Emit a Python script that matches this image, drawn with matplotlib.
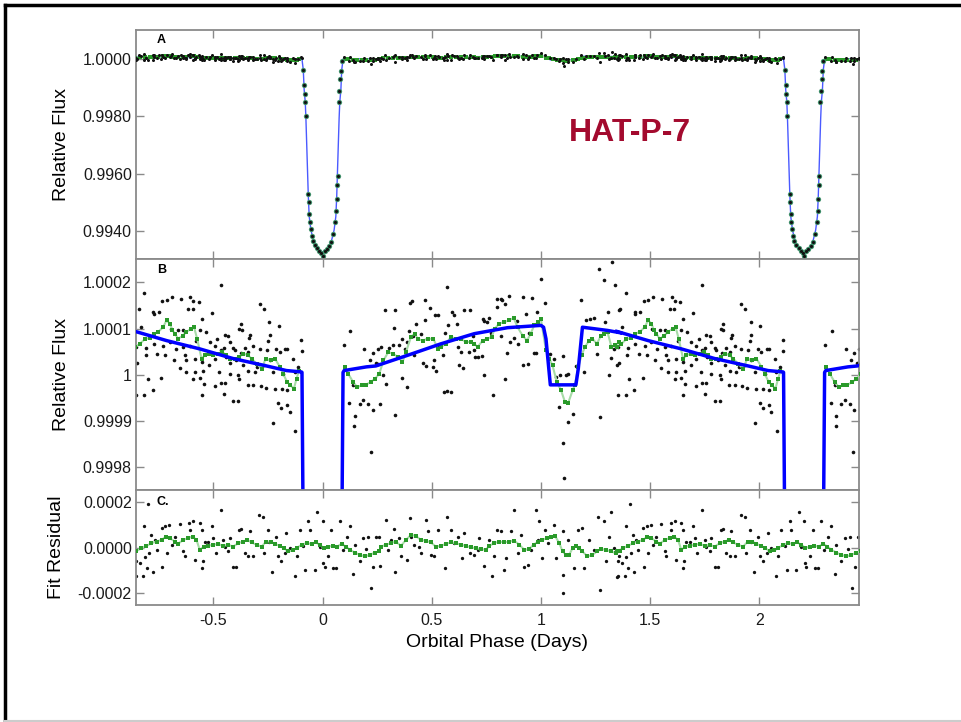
import numpy as np
import matplotlib
matplotlib.use('Agg')
import matplotlib.pyplot as plt
from matplotlib.lines import Line2D

plt.rcParams['font.family'] = ['Liberation Sans', 'DejaVu Sans']

# orbital period (days); the folded data repeats after one period
P = 2.2047

# panel B: binned flux, (phase, ppm from 1) over one period
flux_pts = [
    (-0.466, 195), (-0.817, 177), (-0.691, 168), (-0.714, 163), (-0.734, 159), (-0.650, 165), (-0.606, 168),
    (-0.591, 159), (-0.566, 157), (-0.841, 142), (-0.775, 137), (-0.749, 136), (-0.614, 143), (-0.595, 142),
    (-0.507, 133), (-0.554, 121), (-0.287, 153), (-0.269, 143), (-0.244, 114), (-0.201, 105), (-0.772, 132),
    (-0.833, 103), (-0.694, 100), (-0.661, 98), (-0.638, 98), (-0.562, 96), (-0.534, 93), (-0.482, 78),
    (-0.447, 87), (-0.432, 85), (-0.382, 100), (-0.369, 98), (-0.372, 111), (-0.330, 87), (-0.336, 80),
    (-0.241, 87), (-0.249, 74), (-0.098, 75), (-0.095, 51), (-0.852, 60), (-0.806, 58), (-0.772, 67),
    (-0.730, 62), (-0.699, 71), (-0.672, 56), (-0.638, 60), (-0.607, 62), (-0.577, 74), (-0.516, 72),
    (-0.493, 62), (-0.467, 53), (-0.452, 58), (-0.424, 71), (-0.409, 58), (-0.401, 53), (-0.356, 58),
    (-0.375, 48), (-0.340, 49), (-0.317, 62), (-0.287, 56), (-0.256, 53), (-0.211, 56), (-0.195, 49),
    (-0.172, 56), (-0.162, 56), (-0.134, 35), (-0.111, 17), (-0.809, 43), (-0.757, 46), (-0.720, 42),
    (-0.681, 31), (-0.630, 42), (-0.623, 31), (-0.585, 35), (-0.553, 27), (-0.519, 20), (-0.493, 35),
    (-0.443, 38), (-0.424, 26), (-0.394, 31), (-0.363, 20), (-0.299, 17), (-0.269, 20), (-0.241, 31),
    (-0.849, 26), (-0.653, 14), (-0.623, 6), (-0.585, 6), (-0.546, 9), (-0.473, 6), (-0.424, 2),
    (-0.386, -1), (-0.340, 9), (-0.310, 6), (-0.226, 6), (-0.180, 2), (-0.127, 6), (-0.800, -10),
    (-0.739, -7), (-0.592, -9), (-0.562, -7), (-0.543, -20), (-0.493, -25), (-0.467, -17), (-0.447, -17),
    (-0.382, -10), (-0.343, -22), (-0.317, -23), (-0.282, -25), (-0.261, -29), (-0.218, -30), (-0.186, -32),
    (-0.162, -34), (-0.852, -43), (-0.817, -43), (-0.778, -34), (-0.554, -43), (-0.452, -41), (-0.409, -58),
    (-0.386, -56), (-0.203, -61), (-0.162, -65), (-0.189, -72), (-0.150, -81), (-0.226, -105), (-0.124, -123),
    (0.127, 94), (0.098, 65), (0.191, 55), (0.229, 48), (0.217, 31), (0.244, 26), (0.140, -23),
    (0.122, -61), (0.186, -54), (0.171, -64), (0.209, -63), (0.148, -90), (0.145, -111), (0.229, -76),
    (0.224, -168), (0.252, 56), (0.267, 60), (0.255, 24), (0.279, -1), (0.290, -20), (0.264, -63),
    (0.331, -87), (0.305, 58), (0.324, 65), (0.331, 140), (0.287, 140), (0.328, 101), (0.348, 65),
    (0.366, 78), (0.377, 55), (0.389, 72), (0.363, -7), (0.386, -27), (0.408, 159), (0.401, 156),
    (0.394, 94), (0.412, 85), (0.427, 111), (0.420, 43), (0.450, 89), (0.458, 26), (0.473, 19),
    (0.470, 163), (0.469, 119), (0.491, 145), (0.504, 17), (0.511, 31), (0.519, 7), (0.516, 129),
    (0.530, 130), (0.534, 64), (0.550, 43), (0.557, -38), (0.572, -36), (0.590, -38), (0.572, 190),
    (0.560, 91), (0.575, 108), (0.592, 137), (0.603, 130), (0.615, 111), (0.618, 60), (0.633, 49),
    (0.626, 22), (0.641, 14), (0.649, 140), (0.672, 49), (0.676, 141), (0.687, 85), (0.694, 53),
    (0.697, 38), (0.713, 38), (0.728, 40), (0.740, 116), (0.733, 121), (0.755, 114), (0.763, 123),
    (0.740, 0), (0.779, -43), (0.771, 91), (0.798, 147), (0.801, 165), (0.817, 165), (0.824, 163),
    (0.835, 154), (0.817, 85), (0.835, -9), (0.844, 48), (0.855, 170), (0.859, 72), (0.875, 80),
    (0.890, 116), (0.896, 67), (0.916, 168), (0.920, 20), (0.931, 132), (0.939, 24), (0.946, 91),
    (0.957, 166), (0.966, 47), (0.977, 47), (0.984, 136), (1.000, 208), (1.018, 156), (1.043, 46),
    (1.061, 35), (1.069, -5), (1.084, -70), (1.088, -1), (1.103, 40), (1.114, -1), (1.125, -103),
    (1.125, 2), (1.146, -85), (1.103, -148), (1.106, -224), (1.183, 163), (1.160, 19), (1.195, 6),
    (1.206, 118), (1.226, 121), (1.244, 123), (1.256, 44), (1.264, 230), (1.287, 205), (1.293, 114),
    (1.305, 137), (1.313, -1), (1.321, 36), (1.336, 56), (1.339, 195), (1.348, 22), (1.270, -92),
    (1.325, 244), (1.358, 140),
]

# in-transit points (panel A only)
transit_pts = [
    (-0.088, -375), (-0.085, -900), (-0.082, -1200), (-0.079, -1500), (-0.076, -2000), (-0.066, -4700),
    (-0.064, -5000), (-0.062, -5400), (-0.059, -5700), (-0.055, -5950), (-0.050, -6200), (-0.045, -6350),
    (-0.035, -6500), (-0.025, -6620), (-0.015, -6700), (-0.005, -6780), (0.000, -6870), (0.010, -6720),
    (0.020, -6650), (0.030, -6550), (0.040, -6400), (0.050, -6100), (0.058, -5700), (0.063, -5300),
    (0.066, -4900), (0.068, -4400), (0.070, -4100), (0.075, -1500), (0.077, -1100), (0.080, -700),
    (0.083, -400), (0.088, -60),
]

# running mean (green), ppm
flux_smooth = [
    (-0.858, 60), (-0.836, 67), (-0.814, 77), (-0.791, 80), (-0.772, 89), (-0.752, 93), (-0.730, 103),
    (-0.714, 118), (-0.699, 111), (-0.687, 96), (-0.676, 89), (-0.661, 78), (-0.641, 84), (-0.623, 93),
    (-0.600, 100), (-0.588, 103), (-0.574, 78), (-0.554, 35), (-0.539, 42), (-0.519, 46), (-0.501, 42),
    (-0.478, 46), (-0.458, 49), (-0.440, 42), (-0.424, 35), (-0.401, 35), (-0.382, 38), (-0.363, 46),
    (-0.340, 42), (-0.325, 35), (-0.302, 24), (-0.279, 13), (-0.260, 35), (-0.238, 31), (-0.218, 35),
    (-0.195, 17), (-0.180, 2), (-0.162, -16), (-0.147, -23), (-0.131, -30), (-0.119, -9), (-0.108, 9),
    (0.102, 17), (0.118, 2), (0.140, -16), (0.159, -27), (0.179, -23), (0.198, -22), (0.220, -16),
    (0.240, -9), (0.260, 2), (0.279, 31), (0.301, 49), (0.321, 46), (0.347, 38), (0.366, 27),
    (0.382, 49), (0.405, 82), (0.423, 89), (0.435, 78), (0.458, 74), (0.481, 78), (0.508, 78),
    (0.527, 56), (0.542, 60), (0.565, 67), (0.588, 82), (0.611, 78), (0.634, 78), (0.656, 71),
    (0.679, 71), (0.695, 67), (0.710, 60), (0.733, 74), (0.755, 78), (0.774, 82), (0.789, 100),
    (0.809, 111), (0.832, 114), (0.855, 118), (0.875, 123), (0.893, 103), (0.916, 85), (0.936, 74),
    (0.953, 89), (0.969, 107), (0.987, 114), (1.000, 120), (1.023, 53), (1.038, 35), (1.053, 20),
    (1.073, -16), (1.092, -34), (1.110, -59), (1.125, -61), (1.145, -34), (1.155, -23), (1.171, 17),
    (1.186, 42), (1.201, 60), (1.221, 74), (1.236, 78), (1.256, 67), (1.275, 85), (1.290, 89),
    (1.305, 92), (1.323, 60), (1.339, 64), (1.358, 70),
]

# fitted model (blue), ppm
model_pts = [
    (-0.858, 94), (-0.714, 74), (-0.562, 56), (-0.409, 35), (-0.256, 19), (-0.165, 9), (-0.096, 6),
    (-0.094, 5), (-0.088, -375), (-0.084, -1075), (-0.079, -1500), (-0.076, -2070), (-0.065, -4800),
    (-0.061, -5500), (-0.053, -5980), (-0.038, -6450), (-0.015, -6680), (0.000, -6740), (0.015, -6680),
    (0.038, -6450), (0.053, -5980), (0.061, -5500), (0.065, -4800), (0.076, -2070), (0.079, -1500),
    (0.084, -1075), (0.088, -375), (0.094, 5), (0.099, 9), (0.201, 17), (0.244, 19), (0.389, 42),
    (0.542, 67), (0.695, 89), (0.847, 102), (1.000, 107), (1.012, 103), (1.023, 78), (1.043, -22),
    (1.160, -22), (1.171, 13), (1.190, 103), (1.305, 96), (1.363, 91),
]

# panel C residuals, ppm
resid_pts = [
    (-0.798, 191), (-0.817, 92), (-0.852, -61), (-0.852, -124), (-0.821, -124), (-0.778, -109), (-0.835, -66),
    (-0.805, -90), (-0.814, -42), (-0.794, -25), (-0.783, 55), (-0.768, 33), (-0.760, -10), (-0.737, 84),
    (-0.719, 92), (-0.702, 99), (-0.733, -83), (-0.714, -25), (-0.691, 12), (-0.676, 48), (-0.653, 103),
    (-0.638, -17), (-0.630, -39), (-0.611, 106), (-0.607, 77), (-0.592, 114), (-0.586, -54), (-0.562, 106),
    (-0.554, 77), (-0.549, -61), (-0.554, -90), (-0.539, 22), (-0.524, 26), (-0.508, 92), (-0.501, 41),
    (-0.488, -25), (-0.467, 162), (-0.455, 33), (-0.447, 4), (-0.432, -17), (-0.424, 41), (-0.409, -83),
    (-0.394, -83), (-0.382, 77), (-0.371, 80), (-0.356, -25), (-0.340, -39), (-0.333, 70), (-0.317, -39),
    (-0.290, 143), (-0.272, 135), (-0.266, -25), (-0.249, 77), (-0.243, 26), (-0.229, -109), (-0.211, 48),
    (-0.204, -39), (-0.188, -61), (-0.171, -25), (-0.165, 62), (-0.150, -3), (-0.127, -124), (-0.119, -39),
    (-0.104, 77), (-0.089, 7), (-0.078, -98), (-0.066, 114), (-0.058, 77), (-0.035, -98), (-0.024, 153),
    (-0.012, 4), (0.000, 114), (0.003, -68), (0.011, -83), (0.026, -39), (0.041, 77), (0.049, -90),
    (0.064, -90), (0.079, 114), (0.092, -10), (0.110, 48), (0.125, 92), (0.140, -115), (0.148, 12),
    (0.171, -61), (0.186, 41), (0.201, -7), (0.209, 48), (0.221, -178), (0.232, -83), (0.247, 48),
    (0.260, 48), (0.264, -80), (0.290, 121), (0.298, -10), (0.313, 33), (0.328, 80), (0.331, -105),
    (0.351, 41), (0.359, -39), (0.386, -54), (0.401, 128), (0.405, 48), (0.420, 12), (0.443, 4),
    (0.453, -25), (0.473, 121), (0.481, 70), (0.496, -32), (0.511, -39), (0.530, 77), (0.560, -90),
    (0.572, 135), (0.590, 77), (0.603, 19), (0.618, 48), (0.637, -47), (0.649, 62), (0.673, -25),
    (0.692, -32), (0.710, -10), (0.718, 41), (0.740, -80), (0.763, 33), (0.774, -124), (0.783, -39),
    (0.801, 77), (0.817, 70), (0.832, -98), (0.840, -47), (0.862, 70), (0.878, 162), (0.893, -25),
    (0.908, 55), (0.924, -83), (0.941, -76), (0.954, -10), (0.977, 162), (0.985, 33), (0.992, 114),
    (1.003, -47), (1.018, 77), (1.031, 19), (1.061, 99), (1.069, -47), (1.103, 70), (1.103, -119),
    (1.103, -197), (1.122, 33), (1.152, -90), (1.168, 77), (1.186, 84), (1.198, -90), (1.221, 33),
    (1.244, -10), (1.262, 135), (1.270, -185), (1.287, 114), (1.297, -61), (1.313, 48), (1.323, 157),
    (1.336, -3), (1.347, -127), (1.357, -39),
]

resid_smooth = [
    (-0.855, -17), (-0.829, -3), (-0.806, 7), (-0.783, 19), (-0.760, 26), (-0.737, 33), (-0.717, 48),
    (-0.699, 41), (-0.676, 26), (-0.661, 16), (-0.638, 33), (-0.615, 41), (-0.595, 48), (-0.577, 33),
    (-0.562, -10), (-0.543, 4), (-0.524, 7), (-0.501, 12), (-0.478, 16), (-0.455, 7), (-0.432, 12),
    (-0.409, 4), (-0.386, 19), (-0.363, 26), (-0.345, 33), (-0.325, 22), (-0.302, 12), (-0.279, 4),
    (-0.258, 26), (-0.238, 26), (-0.218, 16), (-0.195, 7), (-0.177, -3), (-0.157, -17), (-0.137, -13),
    (-0.119, -3), (-0.096, 12), (-0.073, 19), (-0.050, 16), (-0.031, 22), (-0.012, 12), (0.006, -3),
    (0.026, 4), (0.046, 7), (0.067, 4), (0.087, 16), (0.107, 4), (0.125, -10), (0.148, -22),
    (0.171, -32), (0.194, -39), (0.217, -32), (0.240, -22), (0.259, -17), (0.267, 4), (0.290, 12),
    (0.313, 19), (0.336, 26), (0.359, 7), (0.382, 33), (0.405, 55), (0.427, 51), (0.450, 33),
    (0.473, 30), (0.496, 22), (0.519, 4), (0.542, 7), (0.565, 16), (0.588, 22), (0.611, 19),
    (0.634, 12), (0.656, 7), (0.679, 1), (0.702, -3), (0.725, -7), (0.748, -10), (0.763, 7),
    (0.786, 19), (0.809, 26), (0.832, 22), (0.855, 26), (0.878, 30), (0.901, 12), (0.924, -10),
    (0.946, -7), (0.966, 12), (0.987, 26), (1.007, 33), (1.027, 41), (1.046, 45), (1.064, 51),
    (1.084, 19), (1.099, -17), (1.114, -32), (1.129, -32), (1.145, -3), (1.160, 7), (1.175, -3),
    (1.190, -17), (1.213, -39), (1.236, -32), (1.256, -17), (1.275, -7), (1.297, -10), (1.320, -17),
    (1.343, -25), (1.362, -17),
]


def fold(pts):
    a = np.array(sorted(pts), dtype=float)
    x = np.concatenate([a[:, 0], a[:, 0] + P])
    y = np.concatenate([a[:, 1], a[:, 1]])
    return x, y


def fold_line(pts, gap=0.06):
    a = np.array(sorted(pts), dtype=float)
    xs, ys = [], []
    for shift in (0.0, P):
        x = a[:, 0] + shift
        y = a[:, 1].copy()
        cut = np.where(np.diff(x) > gap)[0] + 1
        x = np.insert(x, cut, np.nan)
        y = np.insert(y, cut, np.nan)
        xs += list(x) + [np.nan]
        ys += list(y) + [np.nan]
    return np.array(xs), np.array(ys)


fx, fy = fold(flux_pts)
tx, ty = fold(transit_pts)
gx, gy = fold_line(flux_smooth)
mx, my = fold_line(model_pts, gap=1.0)
rx, ry = fold(resid_pts)
rgx, rgy = fold_line(resid_smooth)

XLIM = (-0.854, 2.455)
GRAY = '#8a8a8a'
GREEN_DARK = '#2a9a2a'
GREEN_LIGHT = '#a6dba6'

fig = plt.figure(figsize=(9.61, 7.22), dpi=100)
axA = fig.add_axes([0.1415, 0.6413, 0.7521, 0.3178])
axB = fig.add_axes([0.1415, 0.3220, 0.7521, 0.3193])
axC = fig.add_axes([0.1415, 0.1620, 0.7521, 0.1600])

for ax in (axA, axB, axC):
    ax.set_xlim(*XLIM)
    for s in ax.spines.values():
        s.set_color(GRAY)
        s.set_linewidth(1.3)
    ax.tick_params(direction='in', length=6, width=1, color=GRAY, top=True, right=True,
                   labelsize=11.5, labelcolor='#1a1a1a')
    ax.tick_params(axis='y', pad=3)
    ax.tick_params(axis='x', pad=6)
    ax.set_xticks([-0.5, 0, 0.5, 1, 1.5, 2])

# ---- A: full light curve
axA.plot(mx, 1 + my * 1e-6, color='#4a5aff', lw=1, zorder=2)
axA.plot(gx, 1 + gy * 1e-6, color=GREEN_LIGHT, lw=1.5, zorder=3)
axA.plot(gx, 1 + gy * 1e-6, 's', color=GREEN_DARK, ms=2.4, mew=0, zorder=3)
axA.plot(tx, 1 + ty * 1e-6, 'o', color='#3f8f6a', ms=3.8, mew=0, zorder=3)
axA.plot(fx, 1 + fy * 1e-6, 'o', color='#111111', ms=2.2, mew=0, zorder=4)
axA.plot(tx, 1 + ty * 1e-6, 'o', color='#111111', ms=2.3, mew=0, zorder=4)
axA.set_ylim(0.99301, 1.00104)
axA.set_yticks([1.0, 0.998, 0.996, 0.994], ['1.0000', '0.9980', '0.9960', '0.9940'])
axA.tick_params(axis='x', labelbottom=False)
axA.set_ylabel('Relative Flux', fontsize=14)
axA.yaxis.set_label_coords(-0.091, 0.5)
axA.text(0.035, 0.954, 'A', transform=axA.transAxes, fontsize=9, fontweight='bold',
         ha='center', va='center')
fig.text(0.656, 0.8158, 'HAT-P-7', color='#a30a2e', fontsize=23, fontweight='bold',
         ha='center', va='center')

# ---- B: zoom on phase curve
axB.plot(fx, 1 + fy * 1e-6, 'o', color='#111111', ms=2.6, mew=0, zorder=2)
axB.plot(gx, 1 + gy * 1e-6, color=GREEN_LIGHT, lw=1.5, zorder=3)
axB.plot(gx, 1 + gy * 1e-6, 's', color=GREEN_DARK, ms=2.6, mew=0, zorder=3)
axB.plot(mx, 1 + my * 1e-6, color='#0000ff', lw=2.5, zorder=4)
axB.set_ylim(0.999751, 1.000251)
axB.set_yticks([1.0002, 1.0001, 1.0, 0.9999, 0.9998], ['1.0002', '1.0001', '1', '0.9999', '0.9998'])
axB.tick_params(axis='x', labelbottom=False)
axB.set_ylabel('Relative Flux', fontsize=14)
axB.yaxis.set_label_coords(-0.091, 0.5)
axB.text(0.035, 0.952, 'B', transform=axB.transAxes, fontsize=9, fontweight='bold',
         ha='center', va='center')

# ---- C: residuals
axC.plot(rx, ry * 1e-6, 'o', color='#111111', ms=2.4, mew=0, zorder=2)
axC.plot(rgx, rgy * 1e-6, color=GREEN_LIGHT, lw=1.5, zorder=3)
axC.plot(rgx, rgy * 1e-6, 's', color=GREEN_DARK, ms=2.6, mew=0, zorder=3)
axC.set_ylim(-0.000251, 0.000253)
axC.set_yticks([0.0002, 0.0, -0.0002], ['0.0002', '0.0000', '-0.0002'])
axC.set_xticklabels(['-0.5', '0', '0.5', '1', '1.5', '2'])
axC.set_ylabel('Fit Residual', fontsize=14)
axC.yaxis.set_label_coords(-0.098, 0.5)
axC.set_xlabel('Orbital Phase (Days)', fontsize=14, labelpad=4)
axC.text(0.037, 0.892, 'C.', transform=axC.transAxes, fontsize=9, fontweight='bold',
         ha='center', va='center')

# slide frame
fig.add_artist(Line2D([5 / 961, 5 / 961], [0, 1 - 5 / 722], transform=fig.transFigure,
                      color='black', lw=2.5))
fig.add_artist(Line2D([5 / 961, 1], [1 - 5 / 722, 1 - 5 / 722], transform=fig.transFigure,
                      color='black', lw=2.5))
fig.add_artist(Line2D([5 / 961, 1], [1 - 720.5 / 722, 1 - 720.5 / 722], transform=fig.transFigure,
                      color='#cccccc', lw=1.5))

fig.savefig('out.png', dpi=100)
